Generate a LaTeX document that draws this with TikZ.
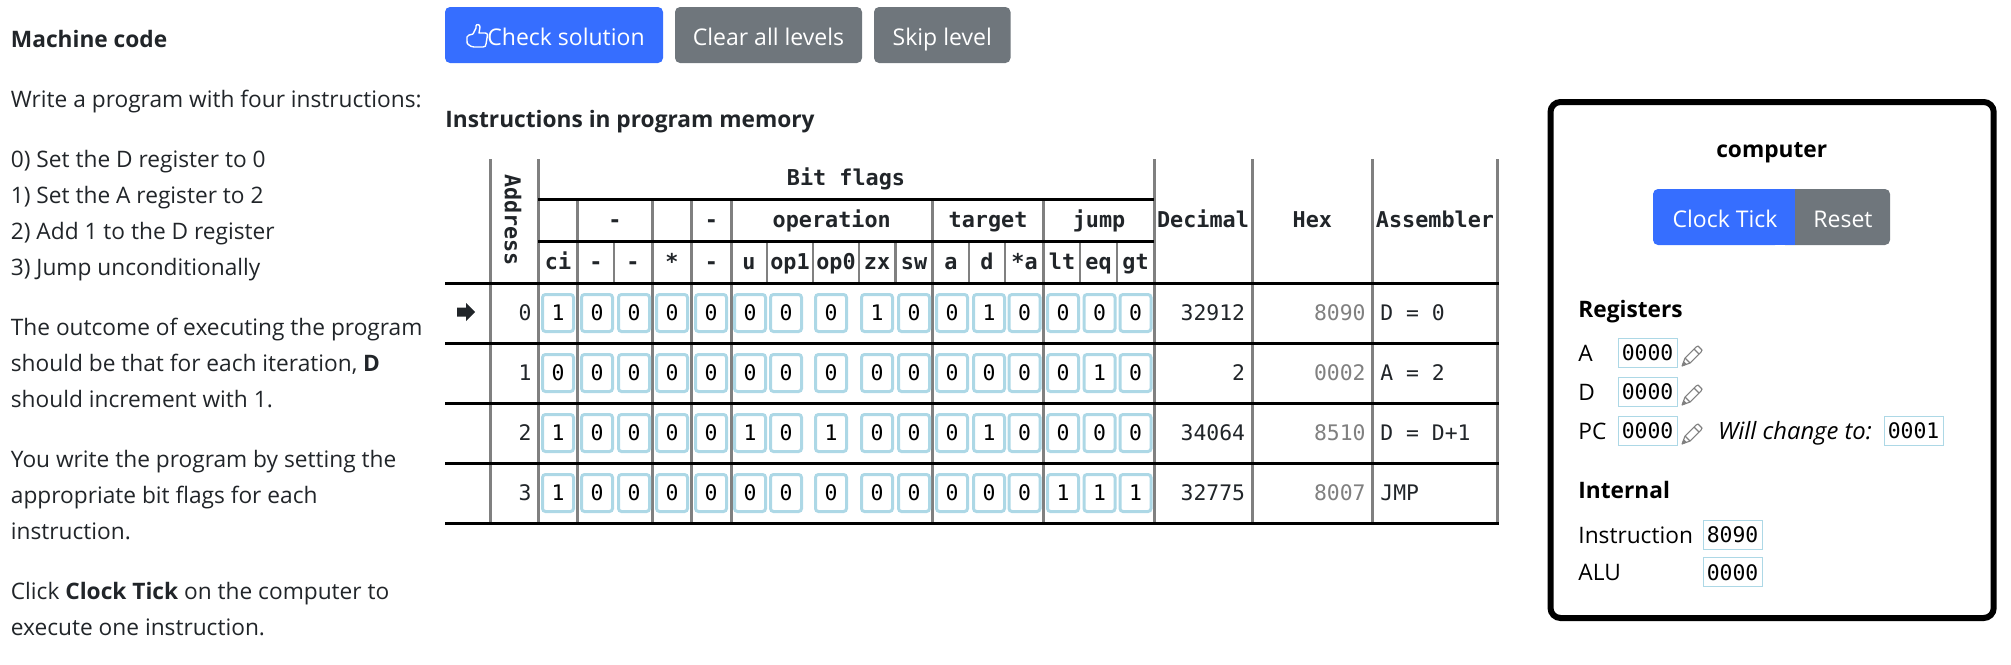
\documentclass[tikz,border=0pt]{standalone}
\usepackage{fontspec}
\setmainfont{Open Sans}
\setmonofont{DejaVu Sans Mono}
\definecolor{inkdark}{HTML}{212529}
\definecolor{btnblue}{HTML}{366EFF}
\definecolor{btngray}{HTML}{6F767C}
\definecolor{cellblue}{HTML}{ADD8E6}
\definecolor{rulegray}{HTML}{808080}
\newcommand{\bodysize}{\fontsize{11.35pt}{13pt}\selectfont}
\newcommand{\btnsize}{\fontsize{11.5pt}{13pt}\selectfont}
\newcommand{\codesize}{\fontsize{10.7pt}{12pt}\selectfont}
\newcommand{\headsize}{\fontsize{10.9pt}{12pt}\selectfont}
\tikzset{
  bodytxt/.style={anchor=base west, inner sep=0pt, yshift=-.5pt, text=inkdark, font=\bodysize},
  headtxt/.style={anchor=base, inner sep=0pt, text=inkdark, font=\headsize\ttfamily\bfseries},
  rowtxt/.style={inner sep=0pt, text=inkdark, font=\codesize\ttfamily},
  cellbox/.style={draw=cellblue, line width=1.5pt, rounded corners=1.5pt, inner sep=0pt,
    minimum width=15.5pt, minimum height=18.5pt, text=black, font=\codesize\ttfamily},
  valbox/.style={draw=cellblue, line width=.5pt, inner sep=0pt, minimum width=29.5pt,
    minimum height=14.5pt, text=black, font=\codesize\ttfamily},
  btnbox/.style={rounded corners=2.5pt, inner sep=0pt, minimum height=28pt, text height=11.5pt,
    text depth=1pt, text=white, font=\btnsize},
  btntxt/.style={inner sep=0pt, anchor=base, yshift=-.5pt, text=white, font=\btnsize},
  grouprule/.style={draw=rulegray, line width=1.5pt},
  subrule/.style={draw=rulegray, line width=1.1pt},
  blackrule/.style={draw=black, line width=1.5pt},
  pencilicon/.pic={
    \draw[rulegray, line width=.55pt, line join=round] (0,20) -- (3,12) -- (14,1) -- (16,0) -- (20,4)
      -- (19,6) -- (8,17) -- cycle;
    \draw[rulegray, line width=.55pt] (3,12) -- (8,17) (12,3) -- (17,8);
    \fill[rulegray] (0,20) -- (1.5,15) -- (5,18.5) -- cycle;
  },
  thumbicon/.pic={
    \draw[white, line width=.7pt, line join=round] (6,10) -- (9,4) -- (9,2) .. controls (9,0) and (13,0) .. (13,3)
      -- (12,9) -- (18,9) .. controls (21,9) and (21,12) .. (20,14) -- (19,20)
      .. controls (19,22) and (18,23) .. (16,23) -- (7,23) .. controls (5,23) and (3,22) .. (2,21)
      .. controls (0,20) and (0,19) .. (0,17) -- (0,13) .. controls (0,11) and (3,11) .. (6,10);
  }
}
\begin{document}
\begin{tikzpicture}[x=.5pt, y=-.5pt]
  \useasboundingbox (0,0) rectangle (2011,664);
  % left column
  \node[bodytxt, font=\bodysize\bfseries] (title) at (10.5,46.5) {Machine code};
  \node[bodytxt] (intro) at (10.5,106.7) {Write a program with four instructions:};
  \node[bodytxt] (stepa) at (10.5,166.7) {0) Set the D register to 0};
  \node[bodytxt] (stepb) at (10.5,202.7) {1) Set the A register to 2};
  \node[bodytxt] (stepc) at (10.5,238.7) {2) Add 1 to the D register};
  \node[bodytxt] (stepd) at (10.5,274.7) {3) Jump unconditionally};
  \node[bodytxt] (outa) at (10.5,334.7) {The outcome of executing the program};
  \node[bodytxt] (outb) at (10.5,370.7) {should be that for each iteration, \textbf{D}};
  \node[bodytxt] (outc) at (10.5,406.7) {should increment with 1.};
  \node[bodytxt] (youa) at (10.5,466.7) {You write the program by setting the};
  \node[bodytxt] (youb) at (10.5,502.7) {appropriate bit flags for each};
  \node[bodytxt] (youc) at (10.5,538.7) {instruction.};
  \node[bodytxt] (clka) at (10.5,598.7) {Click \textbf{Clock Tick} on the computer to};
  \node[bodytxt] (clkb) at (10.5,634.7) {execute one instruction.};
  % buttons
  \node[btnbox, fill=btnblue, minimum width=109pt] (check) at (554,35) {\hspace{12pt}Check solution};
  \pic at (467,24) {thumbicon};
  \node[btnbox, fill=btngray, minimum width=93.5pt] (clear) at (768.5,35) {Clear all levels};
  \node[btnbox, fill=btngray, minimum width=68.25pt] (skip) at (942.25,35) {Skip level};
  \node[bodytxt, font=\bodysize\bfseries] (memhead) at (445,126.7) {Instructions in program memory};
  % table rules
  \foreach \x in {490.5,538.3,1154.3,1252.3,1372.3,1497.3}
    \draw[grouprule] (\x,159) -- (\x,523);
  \foreach \x in {577.5,652.6,691.8,731.3,932.2,1043.7}
    \draw[grouprule] (\x,199) -- (\x,523);
  \foreach \x in {614,767.3,813,858.6,895.4,969.3,1005.3,1080.3,1116.7}
    \draw[subrule] (\x,241) -- (\x,283);
  \foreach \y in {199.3,241}
    \draw[blackrule] (538.3,\y) -- (1154.3,\y);
  \foreach \y in {283.3,343.3,403.3,463.3,523.3}
    \draw[blackrule] (445,\y) -- (1498.5,\y);
  % table header
  \node[headtxt] (bitflags) at (846,185.5) {Bit flags};
  \node[headtxt, rotate=-90, anchor=center] (addr) at (513,220) {Address};
  \node[headtxt] (grpa) at (615,227.3) {-};
  \node[headtxt] (grpb) at (711.5,227.3) {-};
  \node[headtxt] (grpop) at (831.7,227.3) {operation};
  \node[headtxt] (grptg) at (988,227.3) {target};
  \node[headtxt] (grpjp) at (1099,227.3) {jump};
  \node[headtxt] (hdec) at (1203,227.3) {Decimal};
  \node[headtxt] (hhex) at (1312.3,227.3) {Hex};
  \node[headtxt] (hasm) at (1435,227.3) {Assembler};
  \foreach \x/\lab [count=\i] in {558/ci,596/-,633/-,672/*,711.5/-,749/u,790/op1,836/op0,877/zx,914/sw,951/a,987/d,1024.5/*a,1062/lt,1098.5/eq,1135.5/gt}
    \node[headtxt] (flag\i) at (\x,269.3) {\lab};
  % bit cells
  \def\cellx{{558,597,634,672,711,750,786,831,877,914,952,989,1024.5,1063,1099.5,1135.5}}
  \foreach \r/\y/\bits in {0/313/{1,0,0,0,0,0,0,0,1,0,0,1,0,0,0,0},
                           1/373/{0,0,0,0,0,0,0,0,0,0,0,0,0,0,1,0},
                           2/433/{1,0,0,0,0,1,0,1,0,0,0,1,0,0,0,0},
                           3/493/{1,0,0,0,0,0,0,0,0,0,0,0,0,1,1,1}}
    \foreach \b [count=\i] in \bits {
      \pgfmathsetmacro\cx{\cellx[\i-1]}
      \node[cellbox] (bit\r-\i) at (\cx,\y) {\b};
    }
  % table rows
  \foreach \r/\y/\dec/\hex/\asm in {0/320.7/32912/8090/{D = 0},1/380.7/2/0002/{A = 2},2/440.7/34064/8510/{D = D+1},3/500.7/32775/8007/JMP} {
    \node[rowtxt, anchor=base east] (addr\r) at (532,\y) {\r};
    \node[rowtxt, anchor=base east] (dec\r) at (1245.5,\y) {\dec};
    \node[rowtxt, anchor=base east, text=rulegray] (hex\r) at (1366,\y) {\hex};
    \node[rowtxt, anchor=base west] (asm\r) at (1380,\y) {\asm};
  }
  \fill[inkdark] (457,307.5) -- (466,307.5) -- (466,303) -- (475,312) -- (466,321) -- (466,316.5) -- (457,316.5) -- cycle;
  % computer panel
  \draw[black, line width=3pt, rounded corners=5pt] (1550.5,102) rectangle (1993.7,618);
  \node[bodytxt, anchor=base, text=black, font=\bodysize\bfseries] (comp) at (1771.7,156) {computer};
  \fill[btnblue, rounded corners=2.5pt] (1653,189) rectangle (1780,245);
  \fill[btngray, rounded corners=2.5pt] (1780,189) rectangle (1890,245);
  \fill[btnblue] (1770,189) rectangle (1795,245);
  \fill[btngray] (1795,189) rectangle (1805,245);
  \node[btntxt] (tick) at (1725,226.8) {Clock Tick};
  \node[btntxt] (reset) at (1843,226.8) {Reset};
  \node[bodytxt, text=black, font=\bodysize\bfseries] (reghead) at (1578,316.7) {Registers};
  \node[bodytxt, text=black] (rega) at (1578,360.5) {A};
  \node[valbox] (vala) at (1647.5,353) {0000};
  \pic at (1682,346) {pencilicon};
  \node[bodytxt, text=black] (regd) at (1578,399.8) {D};
  \node[valbox] (vald) at (1647.5,392) {0000};
  \pic at (1682,385) {pencilicon};
  \node[bodytxt, text=black] (regpc) at (1578,438.7) {PC};
  \node[valbox] (valpc) at (1647.5,431) {0000};
  \pic at (1682,424) {pencilicon};
  \node[bodytxt, text=black, font=\fontsize{11.9pt}{13pt}\selectfont\itshape] (will) at (1717.7,438.7) {Will change to:};
  \node[valbox] (valnext) at (1913.5,431) {0001};
  \node[bodytxt, text=black, font=\bodysize\bfseries] (inthead) at (1578,497.3) {Internal};
  \node[bodytxt, text=black] (regins) at (1578,542) {Instruction};
  \node[valbox] (valins) at (1732.5,534.5) {8090};
  \node[bodytxt, text=black] (regalu) at (1578,579.7) {ALU};
  \node[valbox] (valalu) at (1732.5,572.3) {0000};
\end{tikzpicture}
\end{document}
